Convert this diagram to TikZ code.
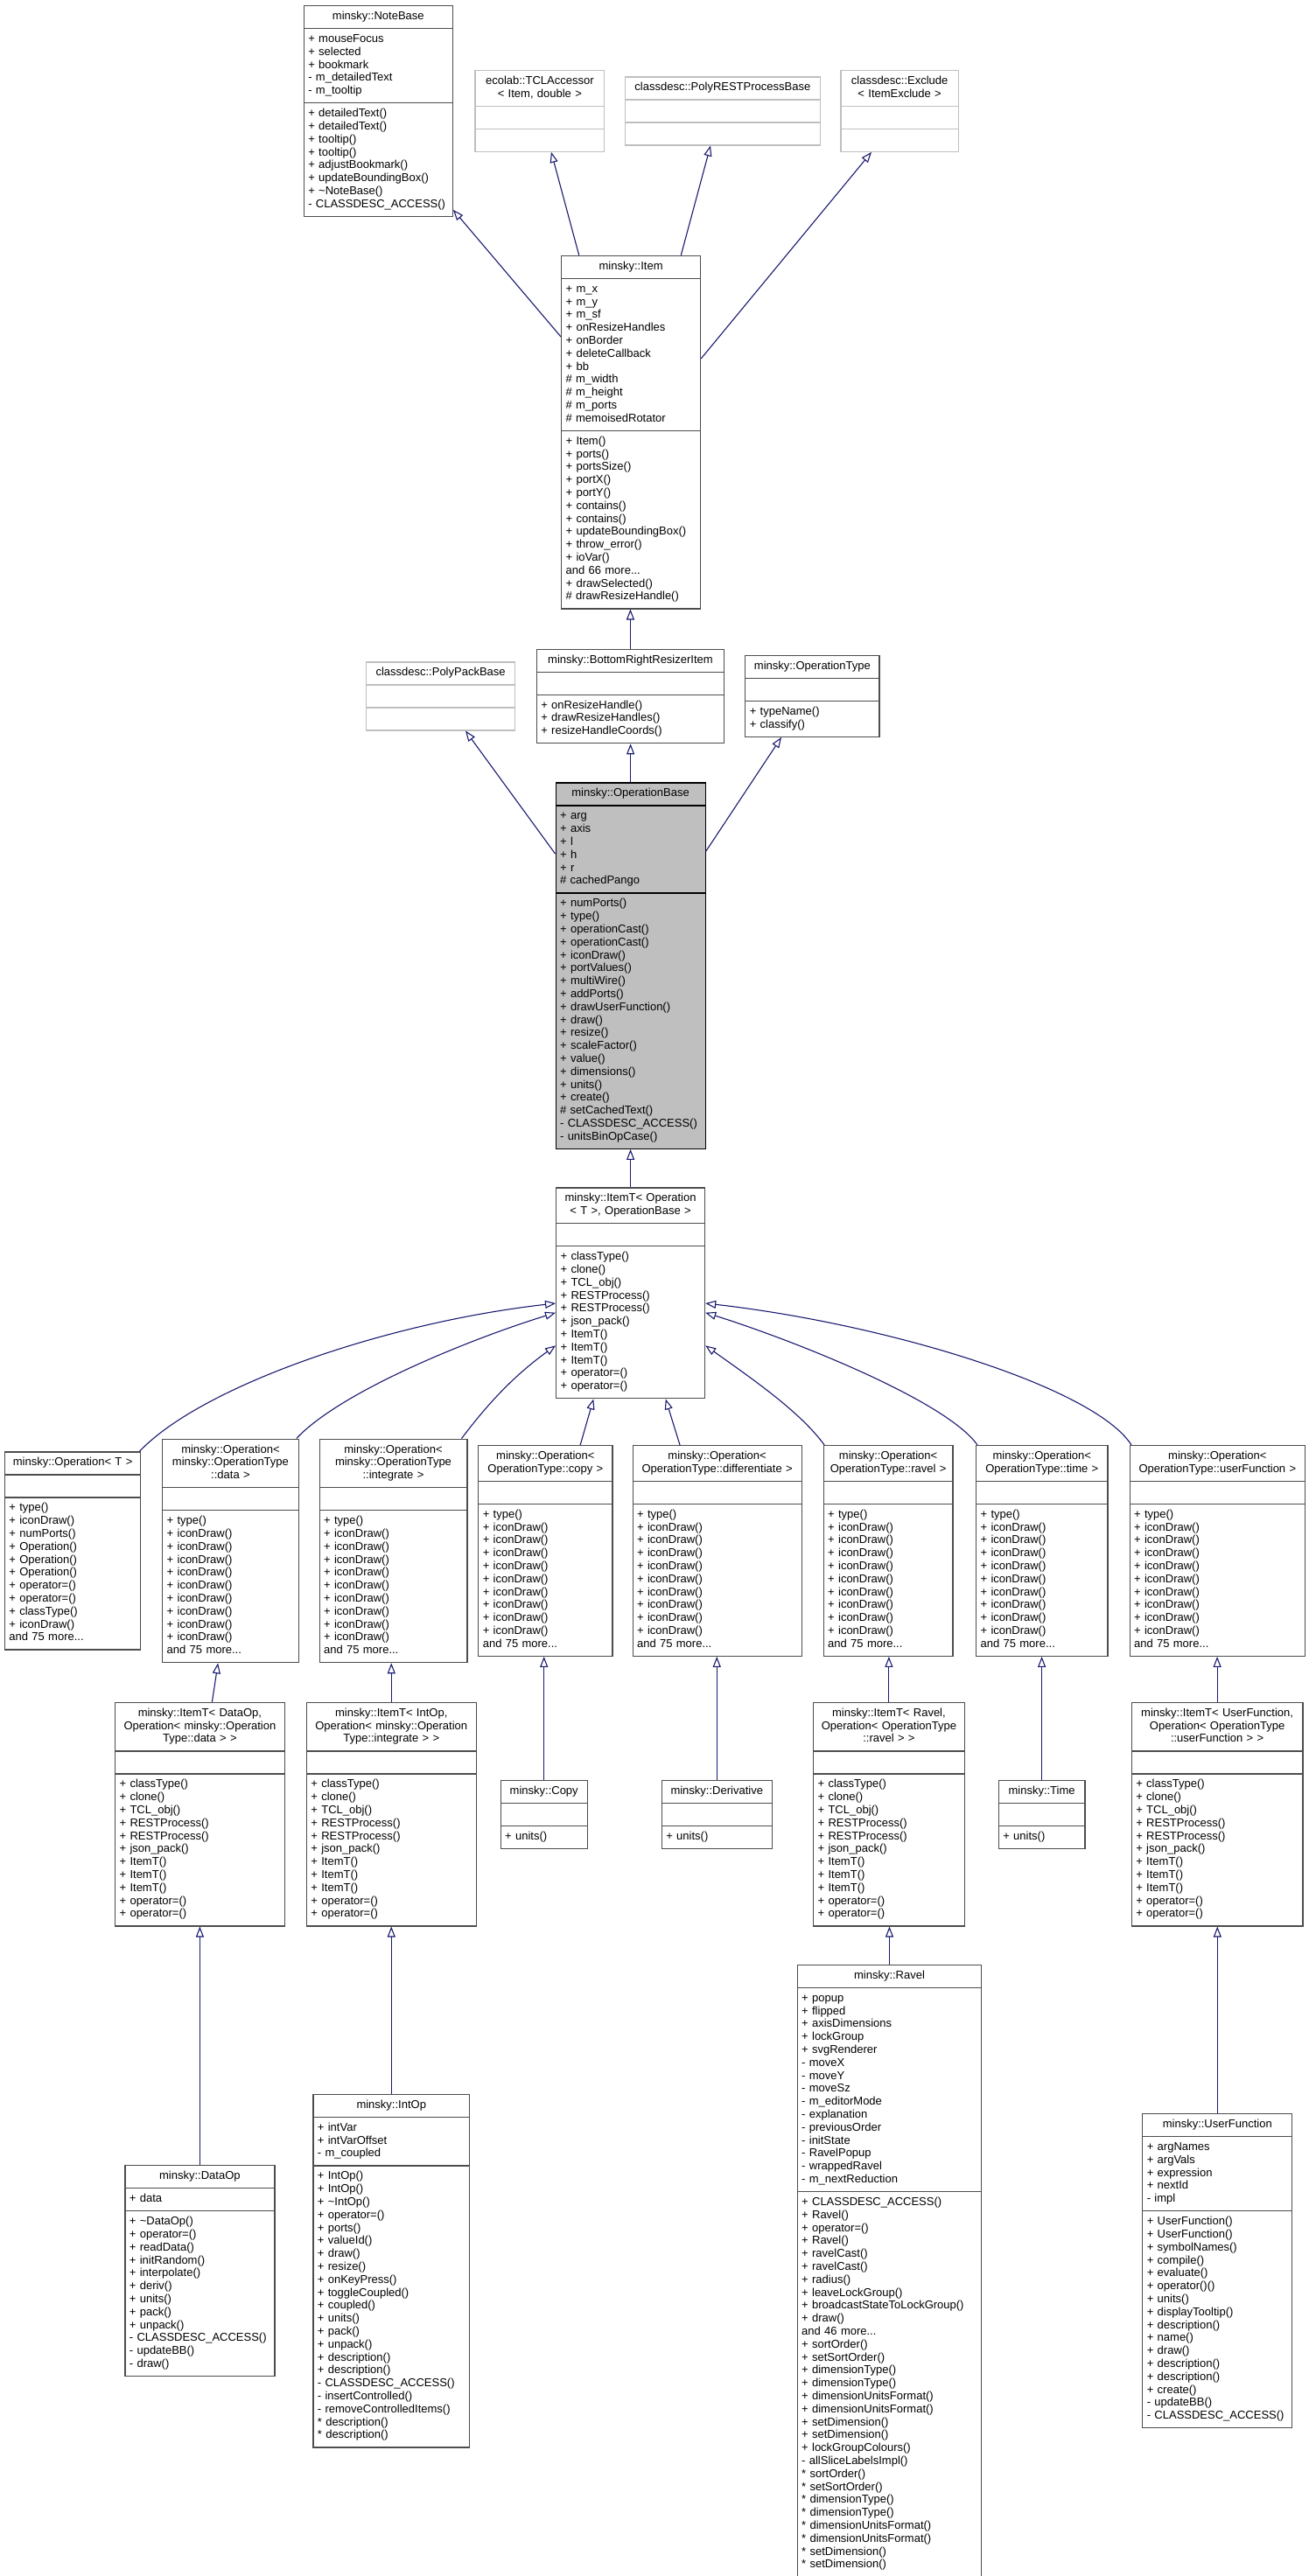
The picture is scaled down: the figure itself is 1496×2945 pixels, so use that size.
\documentclass[tikz,border=0pt]{standalone}
\usepackage{fontspec}
\setmainfont{Liberation Sans}
\usetikzlibrary{shapes.multipart,arrows.meta}
\setlength{\parindent}{0pt}
\definecolor{edgeblue}{HTML}{191970}
\definecolor{boxgrey}{HTML}{BFBFBF}
\definecolor{boxline}{HTML}{4D4D4D}
\newcommand{\lns}[1]{\strut#1\strut}
\newcommand{\clsname}[1]{\makebox[\linewidth][c]{\begin{tabular}{@{}c@{}}#1\end{tabular}}}
\newcommand{\icondraws}{\lns{+ type()\\+ iconDraw()\\+ iconDraw()\\+ iconDraw()\\+ iconDraw()\\+ iconDraw()\\+ iconDraw()\\+ iconDraw()\\+ iconDraw()\\+ iconDraw()\\and 75 more...}}
\newcommand{\itemtmethods}{\lns{+ classType()\\+ clone()\\+ TCL\_obj()\\+ RESTProcess()\\+ RESTProcess()\\+ json\_pack()\\+ ItemT()\\+ ItemT()\\+ ItemT()\\+ operator=()\\+ operator=()}}
\tikzset{
  cls/.style={rectangle split, rectangle split parts=3, anchor=north west,
    draw=boxline, line width=1.2pt, fill=white,
    inner xsep=5pt, inner ysep=5pt, font=\fontsize{13}{14.8}\selectfont},
  extcls/.style={cls, draw=boxgrey},
  basecls/.style={cls, draw=black, fill=boxgrey},
  inherit/.style={draw=edgeblue, line width=1.1pt, -{Triangle[open, length=12pt, width=9pt]}}
}
\begin{document}
\begin{tikzpicture}[x=1pt, y=-1pt]
            \useasboundingbox (0,0) rectangle (1496,2945);
            \fill[white] (0,0) rectangle (1496,2945);
            \node[cls, text width=160pt] (notebase) at (346.7,5.9)
              {\clsname{minsky::NoteBase}
               \nodepart{second}\lns{+ mouseFocus\\+ selected\\+ bookmark\\- m\_detailedText\\- m\_tooltip}
               \nodepart{third}\lns{+ detailedText()\\+ detailedText()\\+ tooltip()\\+ tooltip()\\+ adjustBookmark()\\+ updateBoundingBox()\\+ \textasciitilde NoteBase()\\- CLASSDESC\_ACCESS()}};
            \node[extcls, text width=137.9pt] (tclacc) at (542.3,79.9)
              {\clsname{ecolab::TCLAccessor\\< Item, double >}\nodepart{second}\strut\nodepart{third}\strut};
            \node[extcls, text width=212.9pt] (polyrest) at (713.8,87.3)
              {\clsname{classdesc::PolyRESTProcessBase}\nodepart{second}\strut\nodepart{third}\strut};
            \node[extcls, text width=124.5pt] (exclude) at (960.3,79.9)
              {\clsname{classdesc::Exclude\\< ItemExclude >}\nodepart{second}\strut\nodepart{third}\strut};
            \node[cls, text width=149pt] (item) at (641,291.7)
              {\clsname{minsky::Item}
               \nodepart{second}\lns{+ m\_x\\+ m\_y\\+ m\_sf\\+ onResizeHandles\\+ onBorder\\+ deleteCallback\\+ bb\\\# m\_width\\\# m\_height\\\# m\_ports\\\# memoisedRotator}
               \nodepart{third}\lns{+ Item()\\+ ports()\\+ portsSize()\\+ portX()\\+ portY()\\+ contains()\\+ contains()\\+ updateBoundingBox()\\+ throw\_error()\\+ ioVar()\\and 66 more...\\+ drawSelected()\\\# drawResizeHandle()}};
            \node[extcls, text width=160pt] (polypack) at (418,756.3)
              {\clsname{classdesc::PolyPackBase}\nodepart{second}\strut\nodepart{third}\strut};
            \node[cls, text width=204.3pt] (brri) at (612.7,741.5)
              {\clsname{minsky::BottomRightResizerItem}\nodepart{second}\strut
               \nodepart{third}\lns{+ onResizeHandle()\\+ drawResizeHandles()\\+ resizeHandleCoords()}};
            \node[cls, text width=143.2pt] (optype) at (851.2,748.9)
              {\clsname{minsky::OperationType}\nodepart{second}\strut
               \nodepart{third}\lns{+ typeName()\\+ classify()}};
            \node[basecls, text width=161pt] (opbase) at (634.5,894.3)
              {\clsname{minsky::OperationBase}
               \nodepart{second}\lns{+ arg\\+ axis\\+ l\\+ h\\+ r\\\# cachedPango}
               \nodepart{third}\lns{+ numPorts()\\+ type()\\+ operationCast()\\+ operationCast()\\+ iconDraw()\\+ portValues()\\+ multiWire()\\+ addPorts()\\+ drawUserFunction()\\+ draw()\\+ resize()\\+ scaleFactor()\\+ value()\\+ dimensions()\\+ units()\\+ create()\\\# setCachedText()\\- CLASSDESC\_ACCESS()\\- unitsBinOpCase()}};
            \node[cls, text width=160pt] (itemtop) at (635,1357.4)
              {\clsname{minsky::ItemT< Operation\\< T >, OperationBase >}\nodepart{second}\strut
               \nodepart{third}\itemtmethods};
            \node[cls, text width=145.4pt] (opT) at (4.8,1659.3)
              {\clsname{minsky::Operation< T >}\nodepart{second}\strut
               \nodepart{third}\lns{+ type()\\+ iconDraw()\\+ numPorts()\\+ Operation()\\+ Operation()\\+ Operation()\\+ operator=()\\+ operator=()\\+ classType()\\+ iconDraw()\\and 75 more...}};
            \node[cls, text width=145.5pt] (opdata) at (185.1,1644.5)
              {\clsname{minsky::Operation<\\minsky::OperationType\\::data >}\nodepart{second}\strut\nodepart{third}\icondraws};
            \node[cls, text width=158.8pt] (opint) at (364.5,1644.5)
              {\clsname{minsky::Operation<\\minsky::OperationType\\::integrate >}\nodepart{second}\strut\nodepart{third}\icondraws};
            \node[cls, text width=143.1pt] (opcopy) at (546.2,1651.9)
              {\clsname{minsky::Operation<\\OperationType::copy >}\nodepart{second}\strut\nodepart{third}\icondraws};
            \node[cls, text width=183pt] (opdiff) at (722.5,1651.9)
              {\clsname{minsky::Operation<\\OperationType::differentiate >}\nodepart{second}\strut\nodepart{third}\icondraws};
            \node[cls, text width=137.8pt] (opravel) at (940.6,1651.9)
              {\clsname{minsky::Operation<\\OperationType::ravel >}\nodepart{second}\strut\nodepart{third}\icondraws};
            \node[cls, text width=140.4pt] (optime) at (1115,1651.9)
              {\clsname{minsky::Operation<\\OperationType::time >}\nodepart{second}\strut\nodepart{third}\icondraws};
            \node[cls, text width=190.5pt] (opuser) at (1290.5,1651.9)
              {\clsname{minsky::Operation<\\OperationType::userFunction >}\nodepart{second}\strut\nodepart{third}\icondraws};
            \node[cls, text width=183.6pt] (itdata) at (131,1945.7)
              {\clsname{minsky::ItemT< DataOp,\\Operation< minsky::Operation\\Type::data > >}\nodepart{second}\strut\nodepart{third}\itemtmethods};
            \node[cls, text width=183.7pt] (itint) at (349.8,1945.7)
              {\clsname{minsky::ItemT< IntOp,\\Operation< minsky::Operation\\Type::integrate > >}\nodepart{second}\strut\nodepart{third}\itemtmethods};
            \node[cls, text width=89pt] (copy) at (571.6,2034.5)
              {\clsname{minsky::Copy}\nodepart{second}\strut\nodepart{third}\lns{+ units()}};
            \node[cls, text width=115.9pt] (deriv) at (755.7,2034.5)
              {\clsname{minsky::Derivative}\nodepart{second}\strut\nodepart{third}\lns{+ units()}};
            \node[cls, text width=162.6pt] (itravel) at (929,1945.7)
              {\clsname{minsky::ItemT< Ravel,\\Operation< OperationType\\::ravel > >}\nodepart{second}\strut\nodepart{third}\itemtmethods};
            \node[cls, text width=88.6pt] (time) at (1140.7,2034.5)
              {\clsname{minsky::Time}\nodepart{second}\strut\nodepart{third}\lns{+ units()}};
            \node[cls, text width=185.6pt] (ituser) at (1292.7,1945.7)
              {\clsname{minsky::ItemT< UserFunction,\\Operation< OperationType\\::userFunction > >}\nodepart{second}\strut\nodepart{third}\itemtmethods};
            \node[cls, text width=161pt] (dataop) at (142.3,2475.1)
              {\clsname{minsky::DataOp}
               \nodepart{second}\lns{+ data}
               \nodepart{third}\lns{+ \textasciitilde DataOp()\\+ operator=()\\+ readData()\\+ initRandom()\\+ interpolate()\\+ deriv()\\+ units()\\+ pack()\\+ unpack()\\- CLASSDESC\_ACCESS()\\- updateBB()\\- draw()}};
            \node[cls, text width=168.7pt] (intop) at (357.3,2393.7)
              {\clsname{minsky::IntOp}
               \nodepart{second}\lns{+ intVar\\+ intVarOffset\\- m\_coupled}
               \nodepart{third}\lns{+ IntOp()\\+ IntOp()\\+ \textasciitilde IntOp()\\+ operator=()\\+ ports()\\+ valueId()\\+ draw()\\+ resize()\\+ onKeyPress()\\+ toggleCoupled()\\+ coupled()\\+ units()\\+ pack()\\+ unpack()\\+ description()\\+ description()\\- CLASSDESC\_ACCESS()\\- insertControlled()\\- removeControlledItems()\\{}* description()\\{}* description()}};
            \node[cls, text width=200.6pt] (ravel) at (910.6,2245.7)
              {\clsname{minsky::Ravel}
               \nodepart{second}\lns{+ popup\\+ flipped\\+ axisDimensions\\+ lockGroup\\+ svgRenderer\\- moveX\\- moveY\\- moveSz\\- m\_editorMode\\- explanation\\- previousOrder\\- initState\\- RavelPopup\\- wrappedRavel\\- m\_nextReduction}
               \nodepart{third}\lns{+ CLASSDESC\_ACCESS()\\+ Ravel()\\+ operator=()\\+ Ravel()\\+ ravelCast()\\+ ravelCast()\\+ radius()\\+ leaveLockGroup()\\+ broadcastStateToLockGroup()\\+ draw()\\and 46 more...\\+ sortOrder()\\+ setSortOrder()\\+ dimensionType()\\+ dimensionType()\\+ dimensionUnitsFormat()\\+ dimensionUnitsFormat()\\+ setDimension()\\+ setDimension()\\+ lockGroupColours()\\- allSliceLabelsImpl()\\{}* sortOrder()\\{}* setSortOrder()\\{}* dimensionType()\\{}* dimensionType()\\{}* dimensionUnitsFormat()\\{}* dimensionUnitsFormat()\\{}* setDimension()\\{}* setDimension()}};
            \node[cls, text width=161pt] (userfn) at (1305.2,2415.9)
              {\clsname{minsky::UserFunction}
               \nodepart{second}\lns{+ argNames\\+ argVals\\+ expression\\+ nextId\\- impl}
               \nodepart{third}\lns{+ UserFunction()\\+ UserFunction()\\+ symbolNames()\\+ compile()\\+ evaluate()\\+ operator()()\\+ units()\\+ displayTooltip()\\+ description()\\+ name()\\+ draw()\\+ description()\\+ description()\\+ create()\\- updateBB()\\- CLASSDESC\_ACCESS()}};
            \draw[inherit] ([yshift=-93.3pt]item.north west) -- ([yshift=8pt]notebase.south east);
            \draw[inherit] ([xshift=20.7pt]item.north west) -- ([xshift=87.7pt]tclacc.south west);
            \draw[inherit] ([xshift=137.3pt]item.north west) -- ([xshift=98.2pt]polyrest.south west);
            \draw[inherit] ([yshift=-118.3pt]item.north east) -- ([xshift=35.7pt]exclude.south west);
            \draw[inherit] (brri.north) -- (brri.north |- item.south);
            \draw[inherit] ([yshift=-81.7pt]opbase.north west) -- ([xshift=114pt]polypack.south west);
            \draw[inherit] (opbase.north) -- (opbase.north |- brri.south);
            \draw[inherit] ([yshift=-79pt]opbase.north east) -- ([xshift=41.8pt]optype.south west);
            \draw[inherit] (itemtop.north) -- (itemtop.north |- opbase.south);
            \draw[inherit] ([xshift=-2pt]opT.north east) .. controls (230,1585) and (440,1512) .. ([yshift=-132.6pt]itemtop.north west);
            \draw[inherit] ([xshift=-3pt]opdata.north east) .. controls (390,1590) and (540,1530) .. ([yshift=-143.3pt]itemtop.north west);
            \draw[inherit] ([xshift=-7pt]opint.north east) .. controls (550,1615) and (580,1578) .. ([yshift=-180.9pt]itemtop.north west);
            \draw[inherit] ([xshift=-37.3pt]opcopy.north east) -- ([xshift=43.3pt]itemtop.south west);
            \draw[inherit] ([xshift=54.5pt]opdiff.north west) -- ([xshift=125.7pt]itemtop.south west);
            \draw[inherit] ([xshift=1.5pt]opravel.north west) .. controls (915,1615) and (865,1580) .. ([yshift=-180.9pt]itemtop.north east);
            \draw[inherit] ([xshift=2pt]optime.north west) .. controls (1080,1600) and (900,1530) .. ([yshift=-143.3pt]itemtop.north east);
            \draw[inherit] ([xshift=2.5pt]opuser.north west) .. controls (1250,1585) and (1010,1513) .. ([yshift=-132.6pt]itemtop.north east);
            \draw[inherit] ([xshift=14pt]itdata.north) -- ([xshift=-14.3pt]opdata.south);
            \draw[inherit] (itint.north) -- (itint.north |- opint.south);
            \draw[inherit] (copy.north) -- (copy.north |- opcopy.south);
            \draw[inherit] (deriv.north) -- (deriv.north |- opdiff.south);
            \draw[inherit] (itravel.north) -- (itravel.north |- opravel.south);
            \draw[inherit] (time.north) -- (time.north |- optime.south);
            \draw[inherit] (ituser.north) -- (ituser.north |- opuser.south);
            \draw[inherit] (dataop.north) -- (dataop.north |- itdata.south);
            \draw[inherit] (intop.north) -- (intop.north |- itint.south);
            \draw[inherit] (ravel.north) -- (ravel.north |- itravel.south);
            \draw[inherit] (userfn.north) -- (userfn.north |- ituser.south);
\end{tikzpicture}
\end{document}
